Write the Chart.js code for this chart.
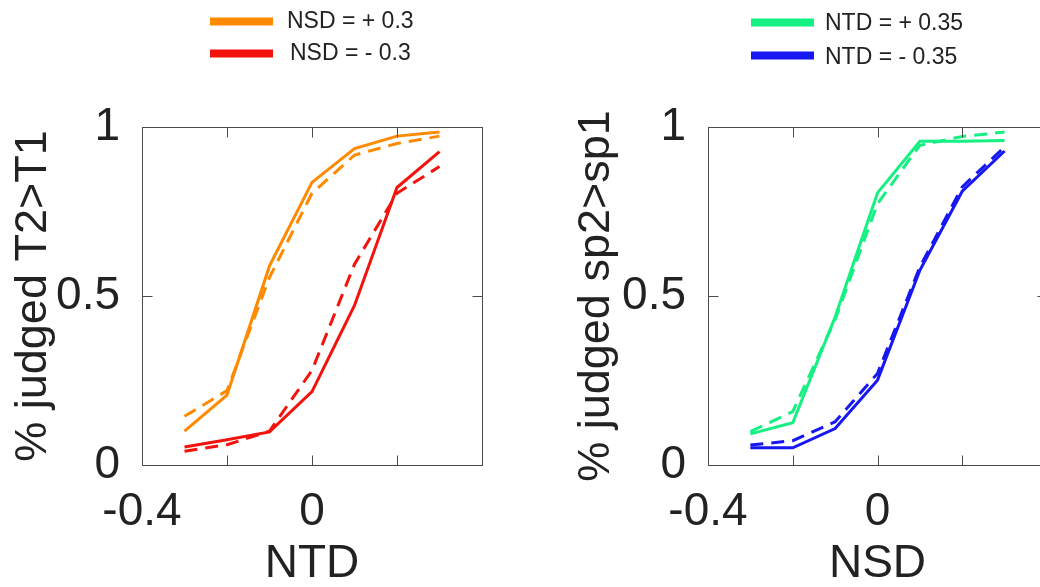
<!DOCTYPE html>
<html>
<head>
<meta charset="utf-8">
<script src="https://cdn.jsdelivr.net/npm/chart.js@4.4.1/dist/chart.umd.min.js"></script>
<style>
  html, body { margin: 0; padding: 0; background: #fff; overflow: hidden; }
  #wrap { position: relative; width: 1040px; height: 587px; overflow: hidden; background: #fff; }
  #c1 { position: absolute; left: 0; top: 0; }
  #c2 { position: absolute; left: 560px; top: 0; }
</style>
</head>
<body>
<div id="wrap">
  <canvas id="c1" width="520" height="587"></canvas>
  <canvas id="c2" width="540" height="587"></canvas>
</div>
<script>
// ---- data ----
const xValues = [-0.3, -0.2, -0.1, 0, 0.1, 0.2, 0.3];
const xTickLabels = ['-0.4', '', '0', '', ''];
const yTickLabels = ['0', '0.5', '1'];

// left panel (x = NTD)
const nsdPlusSolid   = [0.100, 0.207, 0.589, 0.836, 0.936, 0.973, 0.985];
const nsdPlusDashed  = [0.144, 0.220, 0.555, 0.804, 0.917, 0.951, 0.973];
const nsdMinusSolid  = [0.053, 0.075, 0.098, 0.217, 0.472, 0.821, 0.927];
const nsdMinusDashed = [0.041, 0.060, 0.100, 0.280, 0.594, 0.804, 0.883];

// right panel (x = NSD)
const ntdPlusSolid   = [0.092, 0.125, 0.438, 0.805, 0.958, 0.958, 0.960];
const ntdPlusDashed  = [0.099, 0.158, 0.430, 0.773, 0.946, 0.972, 0.985];
const ntdMinusSolid  = [0.051, 0.051, 0.108, 0.251, 0.576, 0.810, 0.929];
const ntdMinusDashed = [0.059, 0.072, 0.128, 0.271, 0.586, 0.823, 0.941];

const FONT = "'Liberation Sans', Arial, Helvetica, sans-serif";
const TXT = '#222222';
const ORANGE = '#ff8a00';
const RED = '#f2140c';
const GREEN = '#14f082';
const BLUE = '#1717f2';

function pts(ys) { return xValues.map((x, i) => ({ x: x, y: ys[i] })); }

function ds(label, ys, color, dashed) {
  return {
    label: label,
    data: pts(ys),
    borderColor: color,
    backgroundColor: color,
    borderWidth: 3,
    borderDash: dashed ? [13, 8] : [],
    pointRadius: 0,
    tension: 0,
    fill: false
  };
}

const matlabAxes = {
  id: 'matlabAxes',
  afterDatasetsDraw(chart, args, opts) {
    const { ctx, chartArea: a, scales: { x, y } } = chart;
    const len = opts.len || 10;
    ctx.save();
    ctx.strokeStyle = opts.color || '#444';
    ctx.lineWidth = 1;
    ctx.setLineDash([]);
    ctx.beginPath();
    const L = Math.round(a.left) + 0.5, R = Math.round(a.right) + 0.5;
    const T = Math.round(a.top) + 0.5, B = Math.round(a.bottom) + 0.5;
    ctx.moveTo(L, T); ctx.lineTo(R, T); ctx.lineTo(R, B); ctx.lineTo(L, B); ctx.closePath();
    x.ticks.forEach(t => {
      const px = Math.round(x.getPixelForValue(t.value)) + 0.5;
      ctx.moveTo(px, B); ctx.lineTo(px, B - len);
      ctx.moveTo(px, T); ctx.lineTo(px, T + len);
    });
    y.ticks.forEach(t => {
      const py = Math.round(y.getPixelForValue(t.value)) + 0.5;
      ctx.moveTo(L, py); ctx.lineTo(L + len, py);
      ctx.moveTo(R, py); ctx.lineTo(R - len, py);
    });
    ctx.stroke();
    ctx.restore();
  }
};

const lineLegend = {
  id: 'lineLegend',
  afterDraw(chart, args, opts) {
    const { ctx } = chart;
    ctx.save();
    (opts.items || []).forEach(it => {
      const d = chart.data.datasets[it.datasetIndex];
      ctx.strokeStyle = d.borderColor;
      ctx.lineWidth = 8;
      ctx.setLineDash([]);
      ctx.beginPath();
      ctx.moveTo(it.x1, it.ly);
      ctx.lineTo(it.x2, it.ly);
      ctx.stroke();
      ctx.fillStyle = TXT;
      ctx.font = '23px ' + FONT;
      ctx.textBaseline = 'middle';
      ctx.textAlign = 'left';
      ctx.fillText(d.label, it.tx, it.ty);
    });
    ctx.restore();
  }
};

function makeOptions(xTitle, yTitle, yWidth, yTitlePad, padRight, legendItems) {
  return {
    responsive: false,
    animation: false,
    devicePixelRatio: 1,
    layout: { padding: { top: 127, right: padRight, left: 0, bottom: 0 } },
    plugins: {
      legend: { display: false },
      tooltip: { enabled: false },
      matlabAxes: { color: '#4a4a4a', len: 10 },
      lineLegend: { items: legendItems }
    },
    scales: {
      x: {
        type: 'linear',
        min: -0.4, max: 0.4,
        grid: { display: false },
        border: { display: false },
        ticks: {
          stepSize: 0.2, autoSkip: false, maxRotation: 0, minRotation: 0,
          padding: 12, color: TXT,
          font: { family: FONT, size: 46 },
          callback: (v, i) => xTickLabels[i]
        },
        title: {
          display: true, text: xTitle, color: TXT,
          font: { family: FONT, size: 46, lineHeight: 1 },
          padding: { top: 0, bottom: 0 }
        },
        afterFit: s => { s.height = 122; }
      },
      y: {
        type: 'linear',
        min: 0, max: 1,
        grid: { display: false },
        border: { display: false },
        ticks: {
          stepSize: 0.5, padding: 14, color: TXT,
          font: { family: FONT, size: 46 },
          callback: (v, i) => yTickLabels[i]
        },
        title: {
          display: true, text: yTitle, color: TXT,
          font: { family: FONT, size: 45, lineHeight: 1 },
          padding: { top: yTitlePad, bottom: 0 }
        },
        afterFit: s => { s.width = yWidth; }
      }
    }
  };
}

new Chart(document.getElementById('c1'), {
  type: 'line',
  data: {
    datasets: [
      ds('NSD = + 0.3', nsdPlusSolid, ORANGE, false),
      ds('NSD = - 0.3', nsdMinusSolid, RED, false),
      ds('NSD = + 0.3 (dashed)', nsdPlusDashed, ORANGE, true),
      ds('NSD = - 0.3 (dashed)', nsdMinusDashed, RED, true)
    ]
  },
  options: makeOptions('NTD', '% judged T2>T1', 142, 11.5, 38, [
    { datasetIndex: 0, x1: 210, x2: 273, ly: 21.5, tx: 287, ty: 21.5 },
    { datasetIndex: 1, x1: 210, x2: 273, ly: 53.5, tx: 290, ty: 54 }
  ]),
  plugins: [matlabAxes, lineLegend]
});

new Chart(document.getElementById('c2'), {
  type: 'line',
  data: {
    datasets: [
      ds('NTD = + 0.35', ntdPlusSolid, GREEN, false),
      ds('NTD = - 0.35', ntdMinusSolid, BLUE, false),
      ds('NTD = + 0.35 (dashed)', ntdPlusDashed, GREEN, true),
      ds('NTD = - 0.35 (dashed)', ntdMinusDashed, BLUE, true)
    ]
  },
  options: makeOptions('NSD', '% judged sp2>sp1', 148, 14.5, 53, [
    { datasetIndex: 0, x1: 191, x2: 254, ly: 22.5, tx: 265, ty: 24 },
    { datasetIndex: 1, x1: 191, x2: 254, ly: 55.5, tx: 265, ty: 57.5 }
  ]),
  plugins: [matlabAxes, lineLegend]
});
</script>
</body>
</html>
